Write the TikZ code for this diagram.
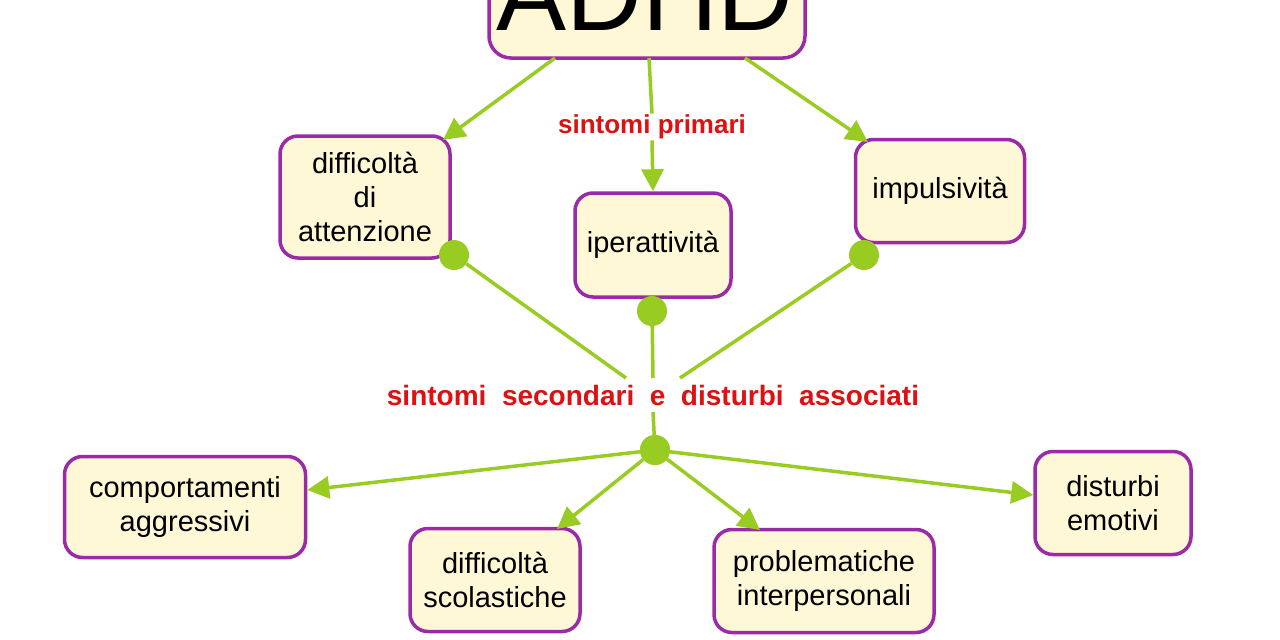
\documentclass[tikz,border=0pt]{standalone}
\usepackage{fontspec}
\setmainfont{Liberation Sans}
\usetikzlibrary{arrows.meta}
\definecolor{gr}{HTML}{99CC22}
\definecolor{pu}{HTML}{9A2AA8}
\definecolor{bx}{HTML}{FFF8D6}
\definecolor{rd}{HTML}{DD1111}
\begin{document}
\begin{tikzpicture}[x=1pt,y=-1pt,
 box/.style={draw=pu,line width=3.5pt,fill=bx,rounded corners=18pt,font=\fontsize{29}{34}\selectfont,align=center,inner sep=0pt},
 con/.style={gr,line width=3.5pt},
 arr/.style={con,-{Triangle[length=22pt,width=22pt]}},
 dot/.style={circle,fill=gr,inner sep=0pt,minimum size=30pt},
 lab/.style={text=rd,font=\bfseries,fill=white}]
\useasboundingbox (0,0) rectangle (1280,640);
\fill[white] (0,0) rectangle (1280,640);
\draw[pu,line width=3.5pt,fill=bx,rounded corners=22pt] (489,-80) rectangle (805,58);
\node[font=\fontsize{105}{115}\selectfont] (adhd) at (645,-6) {ADHD};
\coordinate (a1) at (555,58); \coordinate (a2) at (649,58); \coordinate (a3) at (745,58);
\node[box,minimum width=170pt,minimum height=122pt] (att) at (365,197) {difficoltà\\di\\attenzione};
\node[box,minimum width=156pt,minimum height=104pt] (ipe) at (653,245) {iperattività};
\node[box,minimum width=169pt,minimum height=103pt] (imp) at (940,191) {impulsività};
\node[box,minimum width=241pt,minimum height=101pt] (agg) at (185,507) {comportamenti\\aggressivi};
\node[box,minimum width=170pt,minimum height=103pt] (sco) at (495,580) {difficoltà\\scolastiche};
\node[box,minimum width=220pt,minimum height=103pt] (int) at (824,581) {problematiche\\ interpersonali};
\node[box,minimum width=156pt,minimum height=103pt] (emo) at (1113,503) {disturbi\\emotivi};
\node[lab,font=\bfseries\fontsize{26}{30}\selectfont,inner sep=1pt] (prim) at (652,127) {sintomi\ primari};
\node[lab,font=\bfseries\fontsize{28}{32}\selectfont,inner sep=0pt] (sec) at (653,395) {sintomi\ \ secondari\ \ e\ \ disturbi\ \ associati};
\draw[arr] (a1) -- (443,140);
\draw[con] (a2) -- (prim.north);
\draw[arr] (prim.south) -- (ipe.north);
\draw[arr] (a3) -- (868,142);
\node[dot] (d1) at (454,255) {};
\node[dot] (d2) at (652,311) {};
\node[dot] (d3) at (864,255) {};
\node[dot] (hub) at (655,450) {};
\draw[con] (626,378) -- (d1);
\draw[con] (653,378) -- (d2);
\draw[con] (680,378) -- (d3);
\draw[con] (653,412) -- (hub);
\draw[arr] (hub) -- (agg.east |- 0,490);
\draw[arr] (hub) -- (557,529);
\draw[arr] (hub) -- (760,530);
\draw[arr] (hub) -- (emo.west |- 0,495);
\node[dot] at (hub) {};
\end{tikzpicture}
\end{document}
